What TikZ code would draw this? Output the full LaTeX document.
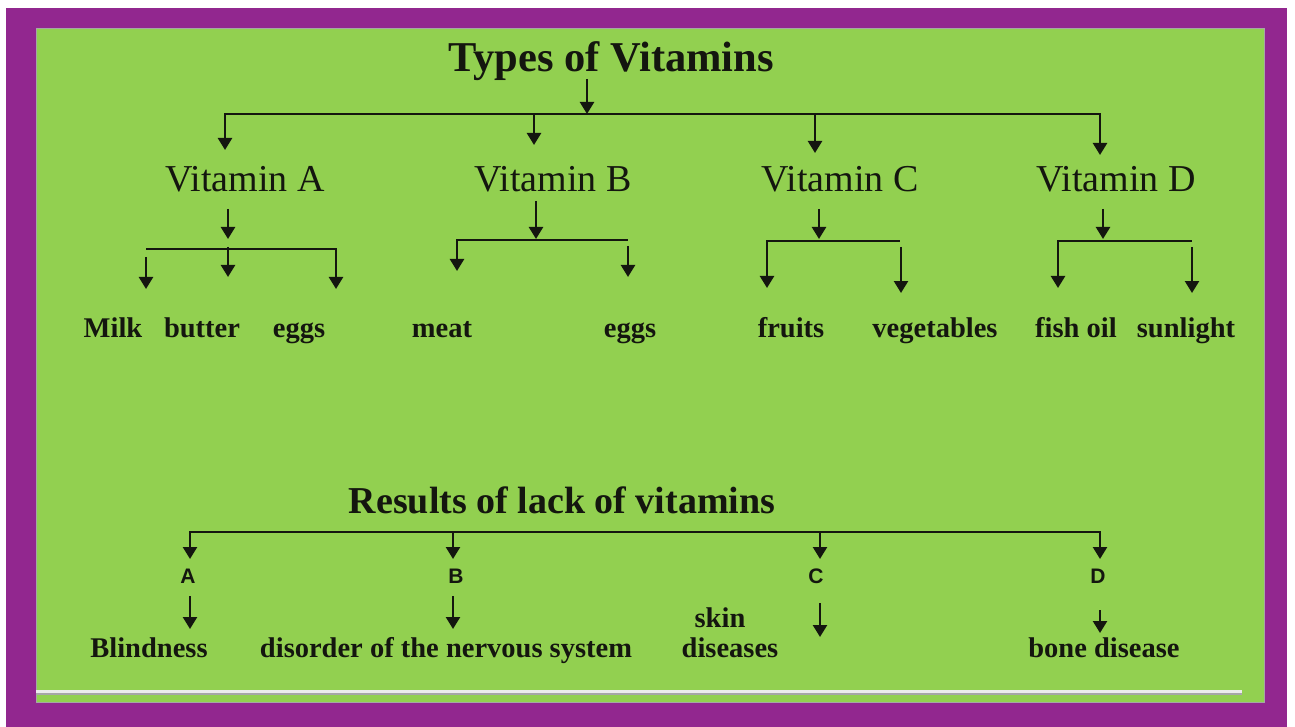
\documentclass[tikz,border=0pt]{standalone}
\usepackage{fontspec}
\setmainfont{Liberation Serif}
\newfontfamily\lsans{Liberation Sans}
\usetikzlibrary{arrows.meta}
\definecolor{framec}{RGB}{146,39,143}
\definecolor{panelc}{RGB}{146,208,80}
\definecolor{inkc}{RGB}{20,22,15}
\begin{document}
\begin{tikzpicture}[x=1pt,y=-1pt,
  ln/.style={line width=2.4pt, draw=inkc, line join=miter},
  arr/.style={ln, -{Triangle[width=14pt,length=12pt]}},
  arrs/.style={ln, {Triangle[width=14pt,length=12pt]}-{Triangle[width=14pt,length=12pt]}},
  arrl/.style={ln, {Triangle[width=14pt,length=12pt]}-},
  txt/.style={inner sep=0pt, anchor=base, text=inkc},
  ttl/.style={txt, font=\fontsize{42.5}{50}\selectfont\bfseries},
  sttl/.style={txt, font=\fontsize{38}{44}\selectfont\bfseries},
  vit/.style={txt, font=\fontsize{38}{44}\selectfont},
  item/.style={txt, font=\fontsize{28.5}{33}\selectfont\bfseries},
  letter/.style={txt, font=\fontsize{21}{25}\selectfont\lsans\bfseries}
]
\useasboundingbox (0,0) rectangle (1295,727);
\fill[white] (0,0) rectangle (1295,727);
\fill[framec] (6,8) rectangle (1287,727);
\fill[panelc] (36,28) rectangle (1264,702);
\draw[black!35, line width=0.8pt] (36,28) rectangle (1264,702);
\draw[line width=1.2pt, gray!70] (36,694) -- (1242,694);
\draw[line width=2.2pt, white!85!gray] (36,691.5) -- (1242,691.5);

% ---------- Types of vitamins ----------
\node[ttl] (tt) at (611,72) {Types of Vitamins};
\coordinate (tts) at (587,79);
\coordinate (jT) at (587,114);
\draw[arr] (tts) -- (jT);
\coordinate (hA) at (225,114);
\coordinate (hD) at (1100,114);
\coordinate (tA) at (225,150);
\coordinate (tD) at (1100,155);
\draw[arrs] (tA) -- (hA) -- (hD) -- (tD);
\coordinate (sB) at (534,115);
\coordinate (tB) at (534,145);
\coordinate (sC) at (815,115);
\coordinate (tC) at (815,153);
\draw[arr] (sB) -- (tB);
\draw[arr] (sC) -- (tC);

\node[vit] (vA) at (245,192) {Vitamin A};
\node[vit] (vB) at (553,192) {Vitamin B};
\node[vit] (vC) at (840,192) {Vitamin C};
\node[vit] (vD) at (1116,192) {Vitamin D};

% Vitamin A
\coordinate (aS) at (228,209);
\coordinate (aJ) at (228,239);
\draw[arr] (aS) -- (aJ);
\coordinate (aL0) at (146,249);
\coordinate (aR0) at (336,249);
\coordinate (aRt) at (336,289);
\draw[arr] (aL0) -- (aR0) -- (aRt);
\coordinate (aLs) at (146,257);
\coordinate (aLt) at (146,289);
\draw[arr] (aLs) -- (aLt);
\coordinate (aMs) at (228,247);
\coordinate (aMt) at (228,277);
\draw[arr] (aMs) -- (aMt);
\node[item] (milk) at (113,337) {Milk};
\node[item] (butter) at (202,337) {butter};
\node[item] (eggsA) at (299,337) {eggs};

% Vitamin B
\coordinate (bS) at (536,201);
\coordinate (bJ) at (536,239);
\draw[arr] (bS) -- (bJ);
\coordinate (bLt) at (457,271);
\coordinate (bL0) at (457,240);
\coordinate (bR0) at (628,240);
\draw[arrl] (bLt) -- (bL0) -- (bR0);
\coordinate (bRs) at (628,246);
\coordinate (bRt) at (628,277);
\draw[arr] (bRs) -- (bRt);
\node[item] (meat) at (442,337) {meat};
\node[item] (eggsB) at (630,337) {eggs};

% Vitamin C
\coordinate (cS) at (819,209);
\coordinate (cJ) at (819,239);
\draw[arr] (cS) -- (cJ);
\coordinate (cLt) at (767,288);
\coordinate (cL0) at (767,241);
\coordinate (cR0) at (900,241);
\draw[arrl] (cLt) -- (cL0) -- (cR0);
\coordinate (cRs) at (901,247);
\coordinate (cRt) at (901,293);
\draw[arr] (cRs) -- (cRt);
\node[item] (fruits) at (791,337) {fruits};
\node[item] (veg) at (935,337) {vegetables};

% Vitamin D
\coordinate (dS) at (1103,209);
\coordinate (dJ) at (1103,239);
\draw[arr] (dS) -- (dJ);
\coordinate (dLt) at (1058,288);
\coordinate (dL0) at (1058,241);
\coordinate (dR0) at (1192,241);
\draw[arrl] (dLt) -- (dL0) -- (dR0);
\coordinate (dRs) at (1192,247);
\coordinate (dRt) at (1192,293);
\draw[arr] (dRs) -- (dRt);
\node[item] (fish) at (1076,337) {fish oil};
\node[item] (sun) at (1186,337) {sunlight};

% ---------- Results of lack of vitamins ----------
\node[sttl] (rt) at (562,513) {Results of lack of vitamins};
\coordinate (rA0) at (190,532);
\coordinate (rD0) at (1100,532);
\coordinate (rAt) at (190,559);
\coordinate (rDt) at (1100,559);
\draw[arrs] (rAt) -- (rA0) -- (rD0) -- (rDt);
\coordinate (rBs) at (453,533);
\coordinate (rBt) at (453,559);
\coordinate (rCs) at (820,533);
\coordinate (rCt) at (820,559);
\draw[arr] (rBs) -- (rBt);
\draw[arr] (rCs) -- (rCt);

\node[letter] (lA) at (188,583) {A};
\node[letter] (lB) at (456,583) {B};
\node[letter] (lC) at (816,583) {C};
\node[letter] (lD) at (1098,583) {D};

\coordinate (sA2) at (190,596);
\coordinate (tA2) at (190,629);
\coordinate (sB2) at (453,596);
\coordinate (tB2) at (453,629);
\coordinate (sC2) at (820,603);
\coordinate (tC2) at (820,637);
\coordinate (sD2) at (1100,610);
\coordinate (tD2) at (1100,633);
\draw[arr] (sA2) -- (tA2);
\draw[arr] (sB2) -- (tB2);
\draw[arr] (sC2) -- (tC2);
\draw[arr] (sD2) -- (tD2);

\node[item] (blind) at (149,657) {Blindness};
\node[item] (nerv) at (446,657) {disorder of the nervous system};
\node[item] (skin) at (720,627) {skin};
\node[item] (dis) at (730,657) {diseases};
\node[item] (bone) at (1104,657) {bone disease};
\end{tikzpicture}
\end{document}
